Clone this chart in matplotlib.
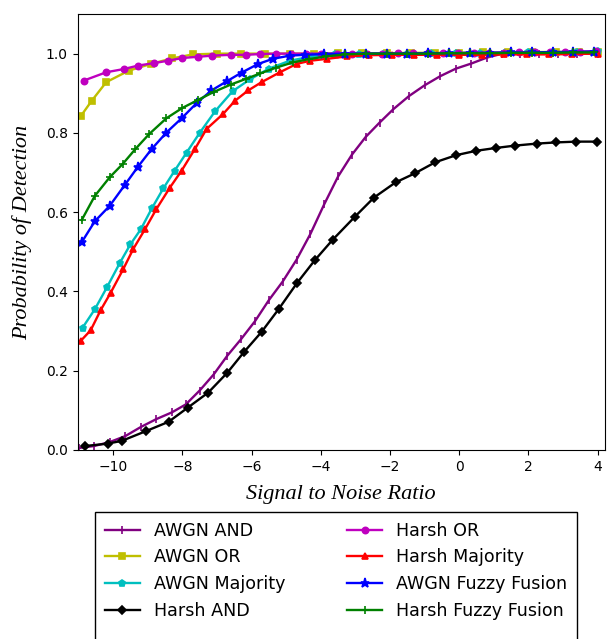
import matplotlib
matplotlib.use("Agg")
import matplotlib.pyplot as plt
from matplotlib.lines import Line2D

# ---------------- data ----------------
awgn_and_x = [-11.0, -10.55, -10.1, -9.65, -9.2, -8.75, -8.3, -7.9, -7.5, -7.1, -6.7, -6.3,
              -5.9, -5.5, -5.1, -4.7, -4.3, -3.9, -3.5, -3.1, -2.7, -2.3, -1.9, -1.45, -1.0,
              -0.55, -0.1, 0.35, 0.8, 1.25, 1.75, 2.3, 2.85, 3.4, 4.0]
awgn_and_y = [0.005, 0.010, 0.020, 0.035, 0.058, 0.078, 0.095, 0.115, 0.150, 0.190, 0.238, 0.280,
              0.325, 0.378, 0.425, 0.480, 0.545, 0.620, 0.690, 0.745, 0.790, 0.826, 0.860, 0.893, 0.920,
              0.943, 0.962, 0.975, 0.990, 1.000, 1.000, 1.000, 1.000, 1.000, 1.000]

awgn_or_x = [-10.93, -10.62, -10.2, -9.55, -8.91, -8.3, -7.7, -7.0, -6.3, -5.6, -4.9, -4.2, -3.5,
             -2.8, -2.1, -1.4, -0.7, 0.0, 0.7, 1.4, 2.1, 2.8, 3.45, 4.0]
awgn_or_y = [0.843, 0.881, 0.928, 0.957, 0.974, 0.988, 0.998, 1.000, 1.000, 1.000, 1.000, 1.000, 1.001,
             1.001, 1.001, 1.002, 1.002, 1.002, 1.003, 1.003, 1.004, 1.004, 1.005, 1.005]

awgn_maj_x = [-10.88, -10.53, -10.17, -9.8, -9.5, -9.2, -8.88, -8.55, -8.22, -7.88, -7.5, -7.05, -6.55,
              -6.05, -5.5, -4.9, -4.25, -3.6, -2.9, -2.2, -1.5, -0.8, -0.1, 0.6, 1.3, 2.0, 2.7, 3.4, 4.0]
awgn_maj_y = [0.309, 0.355, 0.412, 0.473, 0.519, 0.557, 0.610, 0.660, 0.705, 0.750, 0.800, 0.855, 0.905,
              0.935, 0.962, 0.982, 0.993, 0.998, 1.000, 1.000, 1.000, 1.001, 1.001, 1.002, 1.002, 1.003,
              1.003, 1.004, 1.006]

harsh_and_x = [-10.81, -10.16, -9.75, -9.04, -8.40, -7.84, -7.25, -6.70, -6.22, -5.71, -5.22, -4.68,
               -4.17, -3.66, -3.02, -2.46, -1.84, -1.28, -0.69, -0.08, 0.50, 1.06, 1.62, 2.24, 2.80,
               3.39, 3.98]
harsh_and_y = [0.010, 0.016, 0.023, 0.048, 0.071, 0.107, 0.145, 0.195, 0.247, 0.298, 0.355, 0.422,
               0.479, 0.530, 0.588, 0.637, 0.675, 0.698, 0.726, 0.744, 0.755, 0.762, 0.768, 0.773, 0.776,
               0.778, 0.778]

harsh_or_x = [-10.85, -10.2, -9.7, -9.27, -8.83, -8.42, -8.0, -7.56, -7.13, -6.6, -6.15, -5.75, -5.3,
              -4.86, -4.42, -3.98, -3.54, -3.1, -2.66, -2.22, -1.78, -1.34, -0.9, -0.46, -0.02, 0.42,
              0.86, 1.3, 1.74, 2.18, 2.62, 3.06, 3.5, 3.94]
harsh_or_y = [0.932, 0.953, 0.961, 0.970, 0.976, 0.982, 0.989, 0.992, 0.995, 0.997, 0.997, 0.999, 1.000,
              1.000, 1.000, 1.000, 1.000, 1.000, 1.000, 1.000, 1.001, 1.001, 1.001, 1.001, 1.001, 1.002,
              1.002, 1.002, 1.003, 1.003, 1.004, 1.004, 1.005, 1.006]

harsh_maj_x = [-10.94, -10.65, -10.36, -10.07, -9.71, -9.42, -9.08, -8.75, -8.36, -8.02, -7.64, -7.30,
               -6.82, -6.48, -6.10, -5.71, -5.18, -4.70, -4.31, -3.81, -3.25, -2.6, -1.95, -1.3, -0.65,
               0.0, 0.65, 1.3, 1.95, 2.6, 3.25, 4.0]
harsh_maj_y = [0.275, 0.302, 0.353, 0.397, 0.456, 0.507, 0.557, 0.608, 0.662, 0.705, 0.759, 0.810,
               0.848, 0.881, 0.907, 0.928, 0.953, 0.974, 0.982, 0.987, 0.993, 0.996, 0.997, 0.997, 0.997,
               0.997, 0.997, 0.998, 0.998, 0.998, 0.999, 1.000]

awgn_fuzzy_x = [-10.91, -10.53, -10.1, -9.66, -9.28, -8.89, -8.46, -8.02, -7.59, -7.16, -6.72, -6.29,
                -5.81, -5.38, -4.89, -4.46, -3.9, -3.3, -2.7, -2.1, -1.5, -0.9, -0.3, 0.3, 0.9, 1.5,
                2.1, 2.7, 3.3, 3.9]
awgn_fuzzy_y = [0.524, 0.577, 0.616, 0.669, 0.715, 0.759, 0.801, 0.837, 0.875, 0.907, 0.930, 0.952,
                0.974, 0.987, 0.995, 0.997, 0.999, 1.000, 1.000, 1.000, 1.000, 1.001, 1.001, 1.002,
                1.002, 1.003, 1.003, 1.004, 1.004, 1.005]

harsh_fuzzy_x = [-10.91, -10.53, -10.1, -9.72, -9.36, -8.96, -8.46, -8.0, -7.55, -7.1, -6.6, -6.17,
                 -5.75, -5.28, -4.8, -4.35, -3.85, -3.3, -2.7, -2.1, -1.5, -0.9, -0.3, 0.3, 0.9, 1.5,
                 2.1, 2.7, 3.3, 3.9]
harsh_fuzzy_y = [0.580, 0.641, 0.688, 0.722, 0.759, 0.797, 0.837, 0.863, 0.883, 0.903, 0.922, 0.936,
                 0.950, 0.965, 0.978, 0.986, 0.993, 0.998, 1.000, 1.000, 1.000, 1.000, 1.001, 1.001,
                 1.001, 1.002, 1.002, 1.002, 1.003, 1.003]

labels = ["AWGN AND", "AWGN OR", "AWGN Majority", "Harsh AND",
          "Harsh OR", "Harsh Majority", "AWGN Fuzzy Fusion", "Harsh Fuzzy Fusion"]

series = [
    (awgn_and_x, awgn_and_y, "purple", "|", 6),
    (awgn_or_x, awgn_or_y, "y", "s", 4.5),
    (awgn_maj_x, awgn_maj_y, "c", "p", 5),
    (harsh_and_x, harsh_and_y, "k", "D", 4.5),
    (harsh_or_x, harsh_or_y, "m", "o", 4.5),
    (harsh_maj_x, harsh_maj_y, "r", "^", 5),
    (awgn_fuzzy_x, awgn_fuzzy_y, "b", "*", 6.5),
    (harsh_fuzzy_x, harsh_fuzzy_y, "g", "+", 6),
]

# ---------------- figure ----------------
fig = plt.figure(figsize=(6.07, 6.39), dpi=100)
ax = fig.add_axes([0.1277, 0.2958, 0.9959 - 0.1277, 0.9781 - 0.2958])

handles = []
for (xs, ys, col, mk, ms), lab in zip(series, labels):
    ln, = ax.plot(xs, ys, color=col, marker=mk, markersize=ms, linewidth=1.7,
                  markeredgewidth=1.2, label=lab)
    handles.append(ln)

ax.set_xlim(-11.03, 4.2)
ax.set_ylim(0.0, 1.1)
ax.set_xticks([-10, -8, -6, -4, -2, 0, 2, 4])
ax.set_yticks([0.0, 0.2, 0.4, 0.6, 0.8, 1.0])
ax.tick_params(labelsize=10)

ax.set_xlabel("Signal to Noise Ratio", fontsize=16, family="Liberation Serif",
              style="italic", labelpad=8)
ax.set_ylabel("Probability of Detection", fontsize=16, family="Liberation Serif",
              style="italic", labelpad=10)

# legend (two columns; an empty fifth row keeps the frame running past the figure edge)
blank = Line2D([], [], linestyle="none", marker="none")
leg_handles = handles[:4] + [blank] + handles[4:] + [blank]
leg_labels = labels[:4] + [" "] + labels[4:] + [" "]
leg = fig.legend(leg_handles, leg_labels, loc="upper left",
                 bbox_to_anchor=(95 / 607, 1 - 512 / 639), borderaxespad=0.0,
                 borderpad=0.55, ncol=2, fontsize=12.6, numpoints=1, columnspacing=3.55,
                 fancybox=False, edgecolor="black", framealpha=1)
leg.get_frame().set_linewidth(1.0)

fig.savefig("out.png", dpi=100)
